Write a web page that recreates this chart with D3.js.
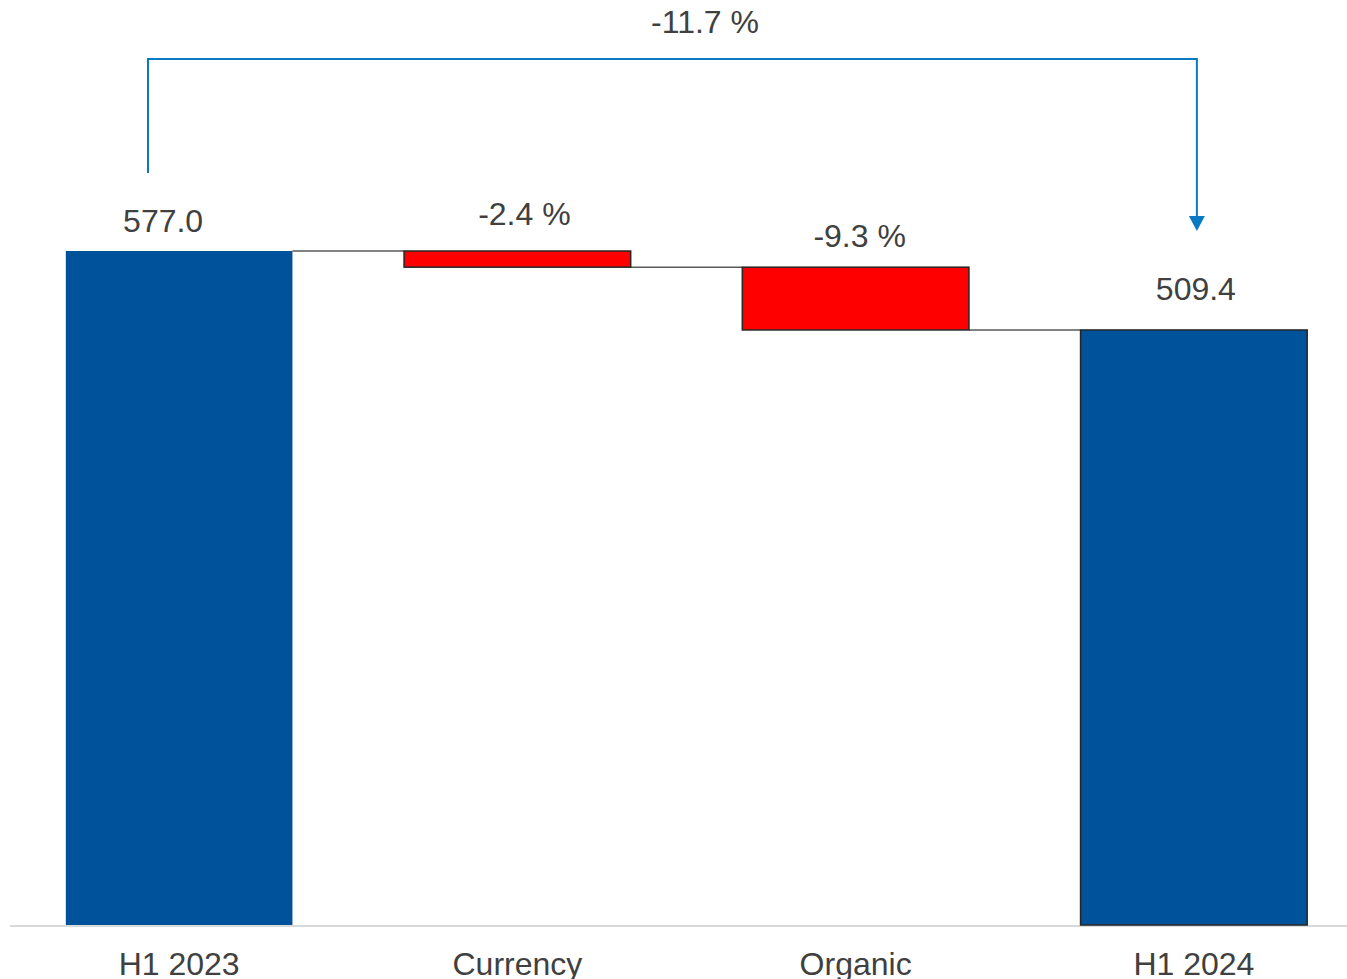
<!DOCTYPE html>
<html><head><meta charset="utf-8">
<script src="https://cdn.jsdelivr.net/npm/d3@7/dist/d3.min.js"></script>
<style>body{margin:0;background:#fff;}svg{display:block;}</style>
</head><body>
<svg id="c" width="1347" height="979"></svg>
<script>
const categories = ["H1 2023", "Currency", "Organic", "H1 2024"];
const startValue = 577.0;
const changes = [-2.4, -9.3];          // percent of H1 2023
const endValue = 509.4;
const totalChange = -11.7;
const valueLabels = ["577.0", "-2.4 %", "-9.3 %", "509.4"];
const totalLabel = "-11.7 %";

const svg = d3.select("#c");
const x = d3.scaleBand().domain(categories).range([10, 1363]).paddingInner(0.33).paddingOuter(0.165);
const y = d3.scaleLinear().domain([0, 577.0]).range([925, 251]);

// Build waterfall segments
const segs = [];
segs.push({cat: categories[0], y0: 0, y1: startValue, type: "total"});
let run = startValue;
changes.forEach((c, i) => {
  const next = i === changes.length - 1 ? endValue : run + startValue * c / 100;
  segs.push({cat: categories[i + 1], y0: next, y1: run, type: "delta"});
  run = next;
});
segs.push({cat: categories[3], y0: 0, y1: endValue, type: "total"});

// axis line
svg.append("line").attr("x1", 10).attr("x2", 1347).attr("y1", y(0) + 1).attr("y2", y(0) + 1)
  .attr("stroke", "#d9d9d9").attr("stroke-width", 2);

// connectors
const conn = [startValue, segs[1].y0, segs[2].y0];
conn.forEach((v, i) => {
  svg.append("line")
    .attr("x1", x(categories[i]) + x.bandwidth()).attr("x2", x(categories[i + 1]))
    .attr("y1", y(v)).attr("y2", y(v))
    .attr("stroke", "#595959").attr("stroke-width", 1.5);
});

// bars
svg.selectAll("rect.bar").data(segs).join("rect")
  .attr("x", d => x(d.cat)).attr("width", x.bandwidth())
  .attr("y", d => y(d.y1)).attr("height", d => y(d.y0) - y(d.y1))
  .attr("fill", d => d.type === "total" ? "#00529b" : "#ff0000")
  .attr("stroke", (d, i) => i === 0 ? "none" : "#262626")
  .attr("stroke-width", 1.5);

// value labels
const labelDx = [-16, 7, 4, 2];
const labelGap = [20, 27, 21, 31];
svg.selectAll("text.val").data(segs).join("text")
  .attr("x", (d, i) => x(d.cat) + x.bandwidth() / 2 + labelDx[i])
  .attr("y", (d, i) => y(d.y1) - labelGap[i] + 1)
  .attr("text-anchor", "middle")
  .attr("font-family", "Liberation Sans, Arial, sans-serif")
  .attr("font-size", 32).attr("fill", "#404040")
  .text((d, i) => valueLabels[i]);

// category labels
svg.selectAll("text.cat").data(categories).join("text")
  .attr("x", d => x(d) + x.bandwidth() / 2)
  .attr("y", 975)
  .attr("text-anchor", "middle")
  .attr("font-family", "Liberation Sans, Arial, sans-serif")
  .attr("font-size", 32).attr("fill", "#404040")
  .text(d => d);

// bracket
const bx1 = 148, bx2 = x(categories[3]) + x.bandwidth() / 2 + 3;
const by = 59;
const blue = "#0a7ac4";
svg.append("path")
  .attr("d", `M${bx1},${y(startValue) - 78} V${by} H${bx2} V${y(startValue) - 34}`)
  .attr("fill", "none").attr("stroke", blue).attr("stroke-width", 2);
const tipY = y(startValue) - 20;
svg.append("path")
  .attr("d", `M${bx2 - 8},${tipY - 15} L${bx2 + 8},${tipY - 15} L${bx2},${tipY} Z`)
  .attr("fill", blue);
svg.append("text")
  .attr("x", 705).attr("y", 33)
  .attr("text-anchor", "middle")
  .attr("font-family", "Liberation Sans, Arial, sans-serif")
  .attr("font-size", 32).attr("fill", "#404040")
  .text(totalLabel);
</script>
</body></html>
